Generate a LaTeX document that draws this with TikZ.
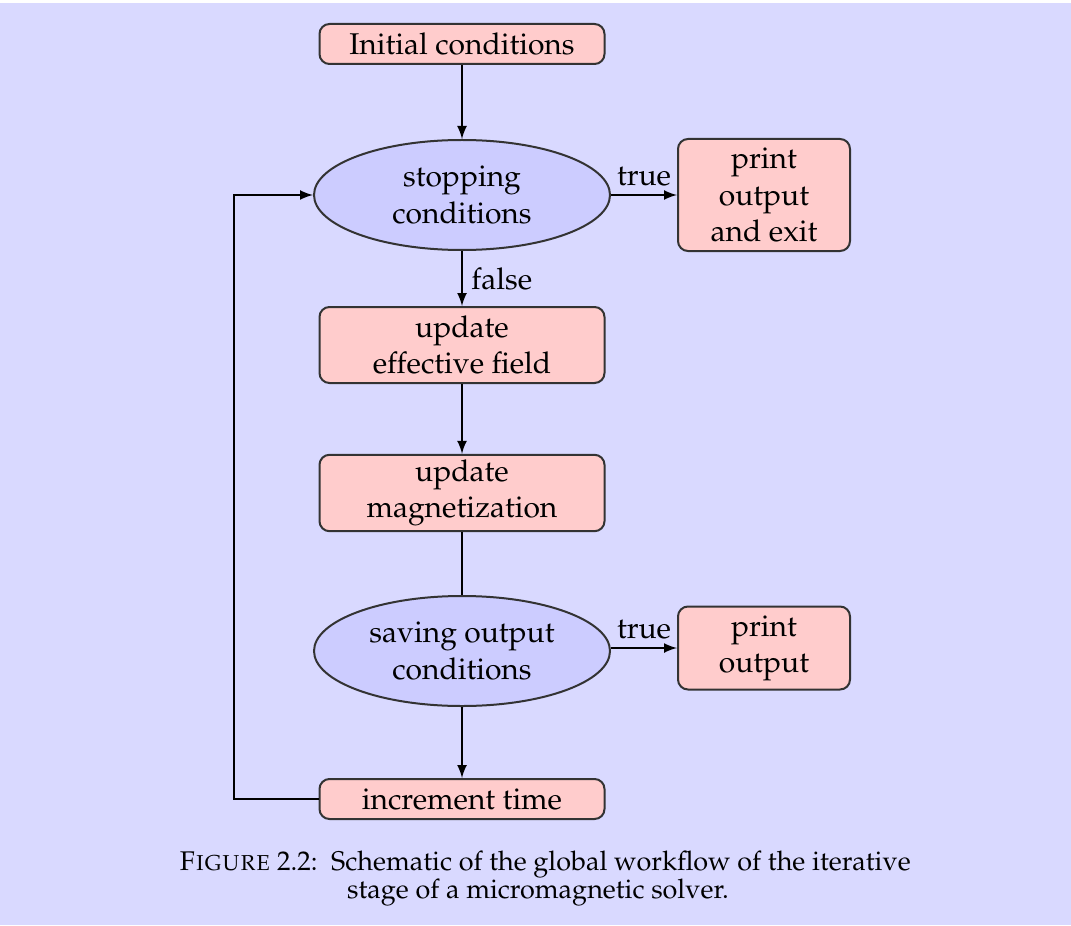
\documentclass[tikz,border=0pt]{standalone}
\usepackage[T1]{fontenc}
\usepackage{mathpazo}
\usepackage{tikz}
\usetikzlibrary{shapes.geometric}

\begin{document}
\begin{tikzpicture}[x=0.4pt, y=-0.4pt, >=latex,
	every node/.style={font=\fontsize{12}{14.5}\selectfont, align=center},
	stepbox/.style={rectangle, rounded corners=4pt, draw=black!80, fill=red!20, minimum width=114pt, inner sep=2pt},
	sidebox/.style={stepbox, minimum width=68.8pt},
	testnode/.style={ellipse, draw=black!80, fill=blue!20, minimum width=118.4pt, minimum height=44pt, inner sep=0pt},
	captext/.style={font=\fontsize{10.8}{13}\selectfont, anchor=base}]
			\fill[white] (0,0) rectangle (1071,925);
			\fill[blue!15] (0,3) rectangle (1071,925);
			\useasboundingbox (0,0) rectangle (1071,925);
			
			\begin{scope}[every path/.style={draw=black, thick}]
			\node[stepbox, minimum height=16pt] (init) at (462,44){Initial conditions};
			\node[testnode] (stop) at (462,195){stopping\\conditions};
			\node[sidebox, minimum height=44.8pt] (exit) at (764,195){print\\output\\and exit};
			\node[stepbox, minimum height=30.4pt] (field) at (462,345){update\\effective field};
			\node[stepbox, minimum height=30.4pt] (magn) at (462,493){update\\magnetization};
			\node[testnode] (save) at (462,651){saving output\\conditions};
			\node[sidebox, minimum height=33.2pt] (print) at (764,648){print\\output};
			\node[stepbox, minimum height=16pt] (time) at (462,799){increment time};
			
			\path[->] (init) edge (stop);
			\path[->] (stop) edge node[above]{true} (exit);
			\path[->] (stop) edge node[right]{false} (field);
			\path[->] (field) edge (magn);
			\path (magn) edge (save);
			\draw[->] (save.east |- print.west) -- node[above]{true} (print.west);
			\path[->] (save) edge (time);
			\draw[->] (time.west) -- ++(-85,0) |- (stop.west);
			\end{scope}
			
			\node[captext] (cap1) at (545,870){\textsc{Figure} 2.2:\enspace Schematic of the global workflow of the iterative};
			\node[captext] (cap2) at (538,898){stage of a micromagnetic solver.};
			\end{tikzpicture}
\end{document}
